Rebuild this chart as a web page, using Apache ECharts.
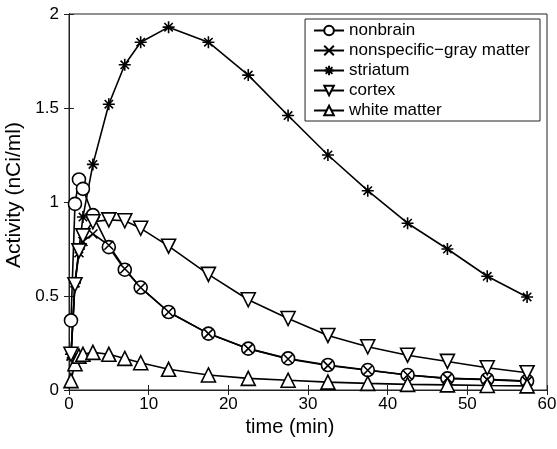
<!DOCTYPE html>
<html>
<head>
<meta charset="utf-8">
<script src="https://cdn.jsdelivr.net/npm/echarts@6/dist/echarts.min.js"></script>
<style>
  html, body { margin: 0; padding: 0; background: #fff; }
  #main { width: 557px; height: 449px; }
</style>
</head>
<body>
<div id="main"></div>
<script>
// frame mid times (min)
var times = [0.25, 0.75, 1.25, 1.75, 3, 5, 7, 9, 12.5, 17.5, 22.5, 27.5, 32.5, 37.5, 42.5, 47.5, 52.5, 57.5];

var nonbrain     = [0.37, 0.99, 1.12, 1.07, 0.93, 0.76, 0.64, 0.545, 0.415, 0.30, 0.22, 0.168, 0.133, 0.106, 0.08, 0.062, 0.057, 0.048];
var nonspecific  = [0.18, 0.57, 0.73, 0.79, 0.83, 0.77, 0.645, 0.545, 0.415, 0.30, 0.22, 0.165, 0.13, 0.105, 0.08, 0.062, 0.055, 0.046];
var striatum     = [0.19, 0.57, 0.75, 0.92, 1.2, 1.52, 1.73, 1.85, 1.93, 1.85, 1.675, 1.46, 1.25, 1.06, 0.887, 0.75, 0.605, 0.495];
var cortex       = [0.19, 0.56, 0.74, 0.82, 0.895, 0.905, 0.9, 0.86, 0.765, 0.615, 0.48, 0.38, 0.29, 0.23, 0.185, 0.152, 0.118, 0.092];
var whiteMatter  = [0.05, 0.14, 0.18, 0.19, 0.2, 0.19, 0.168, 0.145, 0.11, 0.08, 0.062, 0.052, 0.042, 0.035, 0.03, 0.027, 0.024, 0.022];

var yTicks = ['0', '0.5', '1', '1.5', '2'];

var FONT = '"Liberation Sans", Arial, Helvetica, sans-serif';

function pairs(vals) {
    var out = [];
    for (var i = 0; i < times.length; i++) {
        out.push([times[i], vals[i]]);
    }
    return out;
}

var symX = 'path://M0,0L10,10M10,0L0,10';
var symStar = 'path://M5,0L5,10M0,5L10,5M1.5,1.5L8.5,8.5M8.5,1.5L1.5,8.5';
var symDown = 'path://M0,0L10,0L5,8.66Z';
var symUp = 'path://M5,0L10,8.66L0,8.66Z';

function mkSeries(name, vals, symbol, size) {
    return {
        name: name,
        type: 'line',
        data: pairs(vals),
        symbol: symbol,
        symbolSize: size,
        showAllSymbol: true,
        z: 3,
        lineStyle: { color: '#000', width: 1.6 },
        itemStyle: { color: '#fff', borderColor: '#000', borderWidth: 1.6 },
        emphasis: { disabled: true },
        animation: false
    };
}

var chart = echarts.init(document.getElementById('main'));
chart.setOption({
    animation: false,
    textStyle: { fontFamily: FONT },
    grid: {
        left: 69, right: 10, top: 14, bottom: 59,
        outerBoundsMode: 'none',
        show: true, borderColor: '#222', borderWidth: 1, backgroundColor: '#fff'
    },
    legend: {
        orient: 'vertical',
        right: 17, top: 19,
        backgroundColor: '#fff',
        borderColor: '#222', borderWidth: 1,
        padding: [3, 10, 2, 8],
        itemWidth: 30, itemHeight: 12, itemGap: 3,
        textStyle: { fontFamily: FONT, fontSize: 17, color: '#000' },
        data: ['nonbrain', 'nonspecific\u2212gray matter', 'striatum', 'cortex', 'white matter']
    },
    xAxis: [{
        type: 'value', min: 0, max: 60, interval: 10,
        name: 'time (min)', nameLocation: 'middle', nameGap: 25,
        nameTextStyle: { fontFamily: FONT, fontSize: 20, color: '#000', padding: [0, 36, 0, 0] },
        axisLine: { show: true, lineStyle: { color: '#222' } },
        axisTick: { inside: true, length: 5, lineStyle: { color: '#222' } },
        axisLabel: { fontFamily: FONT, fontSize: 17, color: '#000', margin: 6 },
        splitLine: { show: false }
    }, {
        type: 'value', min: 0, max: 60, interval: 10, position: 'top',
        axisLine: { show: true, lineStyle: { color: '#222' } },
        axisTick: { inside: true, length: 5, lineStyle: { color: '#222' } },
        axisLabel: { show: false },
        splitLine: { show: false }
    }],
    yAxis: [{
        type: 'value', min: 0, max: 2, interval: 0.5,
        name: 'Activity (nCi/ml)', nameLocation: 'middle', nameGap: 37,
        nameTextStyle: { fontFamily: FONT, fontSize: 21, color: '#000', padding: [0, 0, 0, 14] },
        axisLine: { show: true, lineStyle: { color: '#222' } },
        axisTick: { inside: true, length: 5, lineStyle: { color: '#222' } },
        axisLabel: {
            fontFamily: FONT, fontSize: 17, color: '#000', margin: 10,
            formatter: function (v) { return yTicks[Math.round(v / 0.5)]; }
        },
        splitLine: { show: false }
    }, {
        type: 'value', min: 0, max: 2, interval: 0.5, position: 'right',
        axisLine: { show: true, lineStyle: { color: '#222' } },
        axisTick: { inside: true, length: 5, lineStyle: { color: '#222' } },
        axisLabel: { show: false },
        splitLine: { show: false }
    }],
    series: [
        mkSeries('nonbrain', nonbrain, 'circle', 13),
        mkSeries('nonspecific\u2212gray matter', nonspecific, symX, 9),
        mkSeries('striatum', striatum, symStar, 12),
        mkSeries('cortex', cortex, symDown, 14),
        mkSeries('white matter', whiteMatter, symUp, 14)
    ]
});
</script>
</body>
</html>
